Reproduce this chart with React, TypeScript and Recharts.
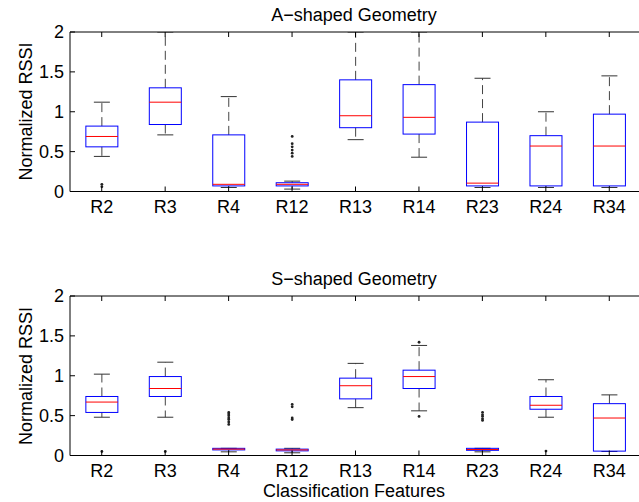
import { ComposedChart, Bar, XAxis, YAxis } from 'recharts';

// feature names shared by both panels
const categories = ['R2', 'R3', 'R4', 'R12', 'R13', 'R14', 'R23', 'R24', 'R34'];
const yTicks = [0, 0.5, 1, 1.5, 2];

// A-shaped geometry
const aLower = [0.44, 0.71, 0.05, 0.03, 0.65, 0.43, 0.05, 0.05, 0.05];
const aQ1 = [0.56, 0.84, 0.07, 0.07, 0.8, 0.72, 0.07, 0.07, 0.07];
const aMedian = [0.69, 1.12, 0.09, 0.09, 0.95, 0.93, 0.105, 0.57, 0.57];
const aQ3 = [0.82, 1.3, 0.71, 0.11, 1.4, 1.34, 0.87, 0.7, 0.97];
const aUpper = [1.12, 2.0, 1.19, 0.13, 2.0, 2.0, 1.42, 1.0, 1.45];
const aOutliers = [[0.06, 0.09], [], [], [0.69, 0.6, 0.56, 0.52, 0.48, 0.44], [], [], [], [], []];

// S-shaped geometry
const sLower = [0.48, 0.48, 0.046, 0.034, 0.6, 0.56, 0.046, 0.48, 0.05];
const sQ1 = [0.54, 0.74, 0.07, 0.058, 0.71, 0.84, 0.065, 0.58, 0.055];
const sMedian = [0.67, 0.84, 0.08, 0.07, 0.875, 0.99, 0.075, 0.63, 0.47];
const sQ3 = [0.74, 0.99, 0.09, 0.08, 0.97, 1.07, 0.09, 0.74, 0.65];
const sUpper = [1.02, 1.17, 0.09, 0.09, 1.155, 1.38, 0.09, 0.95, 0.76];
const sOutliers = [
  [0.05], [0.05], [0.54, 0.52, 0.5, 0.47, 0.45, 0.42, 0.39], [0.64, 0.61, 0.47, 0.45],
  [], [1.42, 0.49], [0.54, 0.51, 0.49, 0.46, 0.44], [0.055], [],
];

const FONT = '"Liberation Sans", Arial, Helvetica, sans-serif';

function buildRows(lo: number[], q1: number[], med: number[], q3: number[], hi: number[], out: number[][]) {
  return categories.map((cat, i) => ({
    cat,
    lo: lo[i],
    q1: q1[i],
    med: med[i],
    q3: q3[i],
    hi: hi[i],
    out: out[i],
  }));
}

const aRows = buildRows(aLower, aQ1, aMedian, aQ3, aUpper, aOutliers);
const sRows = buildRows(sLower, sQ1, sMedian, sQ3, sUpper, sOutliers);

// the bar spans lo..hi, so its pixel box gives us the y scale for the rest
function BoxShape(props: any) {
  const { x, y, width, height, payload } = props;
  if (!payload || !height) return null;
  const { lo, q1, med, q3, hi, out } = payload;
  const k = height / (hi - lo);
  const py = (v: number) => y + (hi - v) * k;
  const cx = x + width / 2;
  const cap = width / 4;
  return (
    <g>
      <line x1={cx} x2={cx} y1={py(q3)} y2={py(hi)} stroke="#444" strokeDasharray="9 5" />
      <line x1={cx} x2={cx} y1={py(q1)} y2={py(lo)} stroke="#444" strokeDasharray="9 5" />
      <line x1={cx - cap} x2={cx + cap} y1={py(hi)} y2={py(hi)} stroke="#333" />
      <line x1={cx - cap} x2={cx + cap} y1={py(lo)} y2={py(lo)} stroke="#333" />
      <rect x={x} y={py(q3)} width={width} height={py(q1) - py(q3)} fill="none" stroke="#0000ff" />
      <line x1={x} x2={x + width} y1={py(med)} y2={py(med)} stroke="#ff0000" />
      {out.map((v: number, i: number) => (
        <circle key={i} cx={cx} cy={py(v)} r={1.4} fill="#222" />
      ))}
    </g>
  );
}

function Panel({ rows, top }: { rows: any[]; top: number }) {
  const tickStyle = { fill: '#000', fontSize: 18, fontFamily: FONT };
  return (
    <div style={{ position: 'absolute', left: 0, top }}>
      <ComposedChart
        width={660}
        height={230}
        data={rows}
        margin={{ top: 27, right: 14, left: 0, bottom: 8.5 }}
        barCategoryGap="25%"
      >
        <XAxis
          dataKey="cat"
          interval={0}
          height={30}
          tickSize={-5}
          tickMargin={14}
          stroke="#000"
          tick={tickStyle}
        />
        <XAxis
          xAxisId="top"
          orientation="top"
          dataKey="cat"
          interval={0}
          height={5}
          tickSize={-5}
          stroke="#000"
          tickFormatter={() => ''}
        />
        <YAxis
          domain={[0, 2]}
          ticks={yTicks}
          allowDataOverflow
          width={70}
          tickSize={-5}
          tickMargin={11}
          stroke="#000"
          tick={tickStyle}
        />
        <YAxis
          yAxisId="r"
          orientation="right"
          domain={[0, 2]}
          ticks={yTicks}
          width={5}
          tickSize={-5}
          stroke="#000"
          tickFormatter={() => ''}
        />
        <Bar
          dataKey={(d: any) => [d.lo, d.hi]}
          shape={<BoxShape />}
          isAnimationActive={false}
        />
      </ComposedChart>
    </div>
  );
}

export default function App() {
  return (
    <div
      style={{
        position: 'absolute',
        left: 0,
        top: 0,
        width: 639,
        height: 502,
        overflow: 'hidden',
        background: '#fff',
        fontFamily: FONT,
      }}
    >
      <Panel rows={aRows} top={0} />
      <Panel rows={sRows} top={264} />
      <svg
        width={639}
        height={502}
        style={{ position: 'absolute', left: 0, top: 0, pointerEvents: 'none' }}
        fontFamily={FONT}
        fontSize={18}
        fill="#000"
      >
        <text x={354} y={20.5} textAnchor="middle">A−shaped Geometry</text>
        <text x={354} y={284.5} textAnchor="middle">S−shaped Geometry</text>
        <text x={354} y={497} textAnchor="middle">Classification Features</text>
        <text transform="translate(32, 111.5) rotate(-90)" textAnchor="middle">Normalized RSSI</text>
        <text transform="translate(32, 376) rotate(-90)" textAnchor="middle">Normalized RSSI</text>
      </svg>
    </div>
  );
}
